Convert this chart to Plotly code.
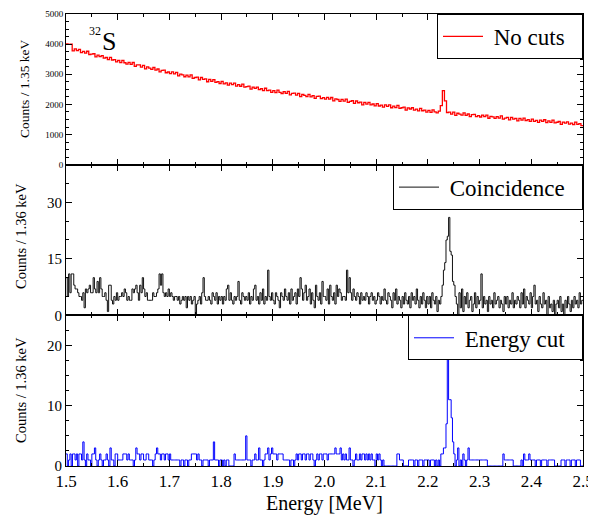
import numpy as np
import plotly.graph_objects as go
from plotly.subplots import make_subplots

# ---------------- data ----------------
E_MIN, E_MAX = 1.5, 2.5

# "No cuts" spectrum, 4 keV bins, counts per 1.35 keV
nocuts_bin_width = 0.004
nocuts_counts = [
    4010, 3990, 4000, 3777, 3840, 3782, 3824, 3717, 3759, 3702, 3764, 3656, 3669, 3681, 3574, 3636, 3588, 3621, 3533, 3556, 3488, 3560, 3473, 3485, 3408,
    3460, 3384, 3459, 3383, 3338, 3392, 3326, 3391, 3265, 3310, 3314, 3238, 3293, 3177, 3242, 3206, 3160, 3225, 3139, 3174, 3078, 3132, 3137, 3051, 3076,
    3020, 3077, 3014, 3060, 2947, 3004, 2981, 2918, 2974, 2911, 2978, 2865, 2892, 2908, 2815, 2892, 2829, 2846, 2752, 2829, 2766, 2823, 2730, 2756, 2693,
    2765, 2684, 2712, 2641, 2709, 2658, 2707, 2605, 2654, 2602, 2671, 2570, 2588, 2607, 2506, 2574, 2533, 2571, 2490, 2519, 2457, 2536, 2454, 2473, 2401,
    2460, 2391, 2471, 2402, 2362, 2423, 2364, 2434, 2315, 2365, 2376, 2307, 2367, 2258, 2328, 2299, 2260, 2330, 2251, 2291, 2202, 2263, 2273, 2194, 2224,
    2175, 2236, 2177, 2229, 2120, 2181, 2162, 2103, 2165, 2106, 2177, 2068, 2099, 2121, 2032, 2113, 2054, 2075, 1987, 2068, 2009, 2070, 1981, 2013, 1954,
    2025, 1947, 1979, 1911, 1983, 1935, 1987, 1889, 1941, 1893, 1965, 1867, 1889, 1911, 1813, 1885, 1847, 1889, 1811, 1843, 1785, 1867, 1789, 1811, 1743,
    1805, 1738, 1821, 1754, 1717, 1780, 1960, 2460, 2120, 1732, 1745, 1678, 1741, 1634, 1707, 1680, 1643, 1716, 1639, 1682, 1595, 1658, 1671, 1594, 1627,
    1582, 1646, 1591, 1645, 1540, 1604, 1588, 1533, 1597, 1542, 1616, 1510, 1545, 1569, 1484, 1568, 1512, 1537, 1451, 1536, 1480, 1544, 1459, 1493, 1438,
    1512, 1437, 1471, 1406, 1481, 1436, 1490, 1395, 1450, 1404, 1479, 1384, 1408, 1433, 1338, 1413, 1377, 1422, 1347, 1381, 1326, 1411, 1335, 1360, 1295,
]

# "Coincidence" spectrum, 2.5 keV bins, counts per 1.36 keV
coinc_bin_width = 0.0025
coinc_counts = [
    10, 5, 11, 6, 11, 11, 8, 7, 7, 6, 5, 5, 4, 6, 2, 7, 6, 7, 8, 6,
    6, 10, 7, 6, 9, 6, 10, 7, 5, 5, 6, 4, 1, 8, 8, 4, 3, 5, 4, 6,
    4, 5, 5, 6, 5, 7, 6, 4, 5, 4, 4, 7, 6, 7, 8, 6, 4, 8, 6, 10,
    7, 5, 6, 4, 4, 4, 4, 6, 5, 5, 6, 7, 11, 8, 11, 6, 5, 6, 5, 7,
    5, 6, 5, 4, 5, 5, 4, 5, 3, 4, 5, 4, 5, 2, 5, 4, 5, 3, 4, 5,
    0, 3, 4, 5, 3, 6, 10, 5, 4, 4, 5, 4, 3, 6, 5, 4, 6, 3, 5, 4,
    5, 3, 5, 4, 7, 8, 4, 6, 4, 3, 5, 4, 5, 9, 4, 3, 6, 5, 4, 5,
    4, 6, 3, 5, 4, 7, 8, 4, 5, 3, 6, 4, 7, 3, 5, 4, 12, 5, 4, 6,
    4, 3, 6, 5, 4, 2, 6, 5, 4, 7, 5, 4, 6, 3, 7, 4, 5, 6, 3, 7,
    5, 10, 7, 4, 6, 8, 4, 5, 7, 3, 6, 4, 2, 8, 5, 4, 6, 3, 9, 5,
    5, 4, 7, 3, 8, 5, 4, 6, 3, 8, 5, 7, 6, 4, 5, 5, 4, 12, 6, 10,
    6, 4, 7, 5, 4, 6, 5, 3, 6, 4, 5, 4, 6, 5, 3, 5, 6, 4, 5, 3,
    4, 6, 5, 3, 5, 4, 7, 4, 3, 6, 5, 4, 2, 6, 4, 7, 3, 5, 4, 2,
    5, 3, 6, 4, 3, 5, 2, 6, 4, 5, 3, 7, 4, 2, 5, 3, 6, 4, 2, 5,
    3, 5, 2, 6, 4, 3, 5, 1, 4, 3, 5, 8, 12, 14, 20, 21, 26, 17, 16, 9,
    8, 5, 3, 0, 6, 2, 7, 1, 5, 3, 6, 2, 4, 5, 1, 3, 6, 2, 5, 3,
    4, 11, 2, 5, 3, 4, 1, 5, 3, 4, 2, 6, 3, 4, 5, 2, 4, 3, 1, 5,
    3, 5, 2, 4, 3, 6, 2, 4, 3, 5, 4, 2, 6, 3, 7, 2, 5, 4, 3, 6,
    2, 5, 8, 3, 4, 1, 5, 3, 2, 6, 3, 4, 0, 5, 2, 3, 1, 4, 0, 3,
    4, 2, 5, 1, 3, 0, 4, 2, 5, 3, 1, 4, 2, 5, 3, 4, 2, 6, 3, 4,
]

# "Energy cut" spectrum, 2.5 keV bins, counts per 1.36 keV
ecut_bin_width = 0.0025
ecut_counts = [
    2, 0, 1, 2, 0, 2, 2, 1, 2, 0, 2, 2, 1, 4, 1, 0, 2, 1, 1, 0,
    2, 2, 3, 1, 0, 1, 2, 1, 0, 1, 1, 2, 1, 0, 3, 1, 1, 0, 2, 2,
    1, 1, 1, 1, 2, 2, 2, 1, 2, 1, 1, 1, 0, 1, 3, 2, 2, 1, 2, 2,
    1, 1, 2, 2, 1, 1, 1, 0, 1, 2, 3, 2, 2, 1, 2, 2, 1, 2, 2, 1,
    2, 1, 1, 1, 1, 1, 1, 1, 0, 1, 1, 0, 1, 1, 0, 1, 1, 2, 2, 2,
    2, 1, 2, 1, 1, 0, 1, 1, 1, 1, 0, 1, 1, 1, 4, 1, 1, 1, 0, 1,
    1, 0, 1, 0, 1, 1, 0, 0, 0, 0, 2, 1, 1, 1, 1, 1, 1, 1, 1, 5,
    1, 1, 1, 0, 1, 1, 2, 1, 1, 3, 1, 1, 0, 1, 2, 2, 3, 1, 2, 3,
    2, 2, 2, 1, 2, 2, 2, 2, 1, 1, 1, 1, 1, 0, 1, 1, 0, 1, 2, 1,
    2, 2, 1, 2, 2, 1, 2, 2, 1, 2, 2, 1, 0, 1, 2, 1, 2, 2, 1, 2,
    2, 2, 1, 2, 2, 2, 2, 2, 3, 2, 2, 2, 3, 1, 2, 1, 2, 1, 1, 3,
    1, 1, 0, 1, 2, 1, 1, 2, 1, 2, 2, 1, 2, 1, 2, 1, 2, 1, 1, 0,
    2, 1, 2, 1, 0, 1, 0, 0, 0, 0, 0, 0, 0, 0, 0, 0, 2, 2, 1, 1,
    1, 0, 0, 0, 0, 1, 1, 1, 1, 0, 1, 1, 0, 1, 1, 1, 0, 1, 1, 1,
    1, 0, 1, 1, 1, 0, 1, 0, 1, 0, 2, 2, 3, 3, 7, 18, 11, 11, 8, 4,
    2, 0, 1, 3, 0, 1, 0, 2, 1, 0, 1, 3, 1, 1, 1, 1, 1, 1, 1, 1,
    1, 1, 1, 1, 1, 1, 0, 0, 0, 0, 0, 0, 0, 0, 0, 0, 0, 0, 2, 1,
    1, 1, 1, 1, 1, 1, 0, 0, 0, 0, 0, 0, 1, 0, 2, 1, 1, 1, 2, 1,
    1, 1, 1, 0, 1, 1, 1, 0, 1, 1, 1, 1, 0, 1, 1, 1, 1, 1, 0, 0,
    0, 0, 0, 1, 1, 1, 0, 1, 1, 1, 0, 1, 1, 1, 0, 1, 1, 1, 0, 0,
]

series_names = ["No cuts", "Coincidence", "Energy cut"]
series_colors = ["#ff0000", "#111111", "#0000ff"]
ytitles = ["Counts / 1.35 keV", "Counts / 1.36 keV", "Counts / 1.36 keV"]
x_ticks = [1.5, 1.6, 1.7, 1.8, 1.9, 2.0, 2.1, 2.2, 2.3, 2.4, 2.5]


def step_xy(start, width, counts):
    edges = start + width * np.arange(len(counts) + 1)
    y = list(counts) + [counts[-1]]
    return edges, y


FONT = "Liberation Serif"
# page body has an 8 px margin: size the figure so the plot area lands
# at x 66..583, y 14..466 of the 596x523 window
BODY = 8
W, H = 596 - BODY, 523 - BODY
ML, MR, MT, MB = 66 - BODY, 13, 14 - BODY, 57
PL, PR, PT, PB = 66, 583, 14, 466  # plot area in window pixels

fig = make_subplots(rows=3, cols=1, shared_xaxes=True, vertical_spacing=0)

datasets = [
    (nocuts_bin_width, nocuts_counts, 1.3),
    (coinc_bin_width, coinc_counts, 1.0),
    (ecut_bin_width, ecut_counts, 1.0),
]
legend_ids = ["legend", "legend2", "legend3"]
for i, (bw, counts, lw) in enumerate(datasets):
    x, y = step_xy(E_MIN, bw, counts)
    fig.add_trace(
        go.Scatter(
            x=x, y=y, mode="lines", line=dict(shape="hv", color=series_colors[i], width=lw),
            name="&nbsp;" + series_names[i] + "&nbsp;&nbsp;", legend=legend_ids[i], showlegend=True,
        ),
        row=i + 1, col=1,
    )

third = 1 / 3
domains = [[2 * third, 1], [third, 2 * third], [0, third]]
yranges = [[0, 5000], [0, 40], [0, 25]]
ytickvals = [[0, 1000, 2000, 3000, 4000, 5000], [0, 15, 30], [0, 10, 20]]
yminor = [250, 5, 2.5]
ytickfont = [9, 15, 15]

axis_common = dict(
    showline=True, linecolor="black", linewidth=1, mirror="allticks",
    ticks="inside", ticklen=6, tickcolor="black", showgrid=False, zeroline=False,
    automargin=False,
)

for i in range(3):
    yk = "yaxis" if i == 0 else f"yaxis{i+1}"
    xk = "xaxis" if i == 0 else f"xaxis{i+1}"
    fig.layout[yk].update(
        domain=domains[i], range=yranges[i], tickvals=ytickvals[i],
        tickfont=dict(family=FONT, size=ytickfont[i], color="black"),
        minor=dict(ticks="inside", ticklen=3, dtick=yminor[i], tickcolor="black", showgrid=False),
        **axis_common,
    )
    fig.layout[xk].update(
        range=[E_MIN, E_MAX], tickvals=x_ticks, tickformat=".1f",
        showticklabels=(i == 2),
        tickfont=dict(family=FONT, size=17, color="black"),
        minor=dict(ticks="inside", ticklen=3, dtick=0.05, tickcolor="black", showgrid=False),
        **axis_common,
    )

# legends
leg_common = dict(
    x=1, xanchor="right", yanchor="top", bgcolor="white", bordercolor="black", borderwidth=1,
    font=dict(family=FONT, size=23, color="black"), itemwidth=40,
)
fig.update_layout(
    legend=dict(y=1, **leg_common),
    legend2=dict(y=2 * third, **leg_common),
    legend3=dict(y=third, **leg_common),
)

def px_x(px):
    return (px - PL) / (PR - PL)

def px_y(py):
    return (PB - py) / (PB - PT)

annotations = [
    dict(text="32", x=px_x(87), y=px_y(31), xanchor="left", yanchor="middle",
         font=dict(family=FONT, size=12, color="black")),
    dict(text="S", x=px_x(100), y=px_y(42), xanchor="left", yanchor="middle",
         font=dict(family=FONT, size=26, color="black")),
    dict(text="Energy [MeV]", x=0.5, y=px_y(503), xanchor="center", yanchor="middle",
         font=dict(family=FONT, size=20, color="black")),
    dict(text=ytitles[0], x=px_x(25), y=px_y(89), textangle=-90, xanchor="center", yanchor="middle",
         font=dict(family=FONT, size=13.5, color="black")),
    dict(text=ytitles[1], x=px_x(21), y=px_y(236), textangle=-90, xanchor="center", yanchor="middle",
         font=dict(family=FONT, size=14.5, color="black")),
    dict(text=ytitles[2], x=px_x(21), y=px_y(390), textangle=-90, xanchor="center", yanchor="middle",
         font=dict(family=FONT, size=14.5, color="black")),
]
for a in annotations:
    a.update(xref="paper", yref="paper", showarrow=False)

fig.update_layout(
    width=W, height=H, margin=dict(l=ML, r=MR, t=MT, b=MB),
    paper_bgcolor="white", plot_bgcolor="white",
    annotations=annotations, showlegend=True,
)

fig.write_html("out.html")
